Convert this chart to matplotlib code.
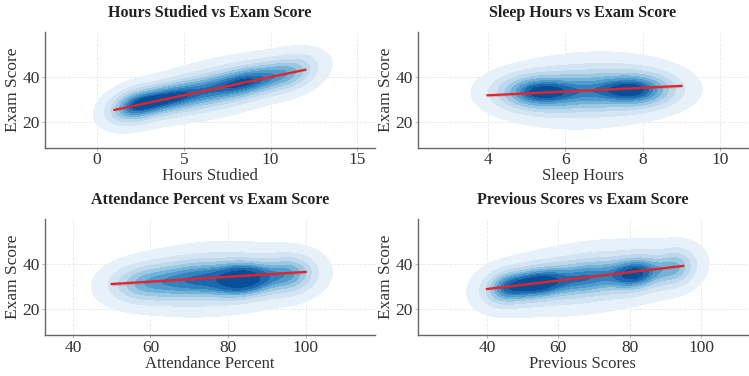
import numpy as np
import matplotlib
matplotlib.use("Agg")
import matplotlib.pyplot as plt

plt.rcParams['font.family'] = ['Liberation Serif', 'DejaVu Serif']

# panel names / axis labels
features = ["Hours Studied", "Sleep Hours", "Attendance Percent", "Previous Scores"]
titles = [f"{f} vs Exam Score" for f in features]

# x axis limits and ticks
xlims = [(-3, 16), (2.2, 10.7), (32.8, 117.8), (20.6, 113)]
xticks = [[0, 5, 10, 15], [4, 6, 8, 10], [40, 60, 80, 100], [40, 60, 80, 100]]
ylim = (8.5, 60)
yticks = [20, 40]

# regression line end points and CI half width
reg_x = [(1, 12), (4, 9), (50, 100), (40, 95)]
reg_y = [(25.3, 43.2), (31.8, 36.0), (31.2, 36.6), (29.0, 39.3)]
reg_ci = [0.5, 0.7, 0.8, 0.6]

# density blobs per panel: (cx, cy, sx, sy, slope, weight)
blobs_hours = [(2.0, 26.8, 1.0, 5.2, 1.6, 0.7), (3.8, 30.0, 1.4, 4.6, 1.6, 1.0),
               (6.5, 34.0, 1.6, 5.2, 1.6, 0.8), (9.0, 38.5, 1.4, 4.8, 1.6, 0.9),
               (11.3, 42.0, 1.1, 5.5, 1.6, 0.6), (6.8, 35.0, 2.9, 7.5, 1.6, 1.5)]
blobs_sleep = [(5.2, 33.2, 0.65, 5.0, 0.0, 1.0), (7.9, 34.2, 0.65, 5.0, 0.0, 1.0),
               (6.5, 33.6, 1.1, 5.6, 0.0, 0.9), (6.6, 34.0, 1.25, 8.5, 0.8, 2.2)]
blobs_att = [(58, 31.5, 6.0, 5.6, 0.1, 0.8), (71, 33.0, 6.5, 5.6, 0.1, 0.9),
             (84, 33.3, 5.0, 4.6, 0.1, 1.1), (96, 35.5, 4.5, 5.6, 0.1, 0.7),
             (77, 33.5, 13.5, 8.5, 0.1, 2.4)]
blobs_prev = [(45, 29.5, 4.2, 5.2, 0.19, 0.6), (54, 31.5, 5.5, 4.8, 0.19, 1.0),
              (68, 34.0, 6.5, 5.3, 0.19, 0.8), (82, 35.8, 5.0, 5.0, 0.19, 0.9),
              (93, 38.5, 3.8, 5.6, 0.19, 0.5), (68, 34.0, 16.0, 8.5, 0.19, 2.4)]
blobs = [blobs_hours, blobs_sleep, blobs_att, blobs_prev]


def density(xx, yy, comps):
    z = np.zeros_like(xx)
    for cx, cy, sx, sy, b, w in comps:
        dx = (xx - cx) / sx
        dy = (yy - cy - b * (xx - cx)) / sy
        z += w * np.exp(-0.5 * (dx**2 + dy**2)) / (sx * sy)
    return z


def iso_levels(z, n=10, thresh=0.05):
    vals = np.sort(z.ravel())
    cum = np.cumsum(vals)
    cum /= cum[-1]
    return np.interp(np.linspace(thresh, 1, n), cum, vals)


band_colors = plt.cm.Blues(np.linspace(0.08, 0.88, 9))

fig, axes = plt.subplots(2, 2, figsize=(7.49, 3.76), dpi=100)
fig.subplots_adjust(left=0.060, right=0.998, top=0.915, bottom=0.109,
                    wspace=0.13, hspace=0.62)

for i, ax in enumerate(axes.flat):
    x0, x1 = xlims[i]
    gx = np.linspace(x0, x1, 300)
    gy = np.linspace(ylim[0], ylim[1], 300)
    xx, yy = np.meshgrid(gx, gy)
    z = density(xx, yy, blobs[i])
    ax.contourf(xx, yy, z, levels=iso_levels(z), colors=band_colors, zorder=1)

    rx = np.array(reg_x[i])
    ry = np.array(reg_y[i])
    ax.fill_between(rx, ry - reg_ci[i], ry + reg_ci[i], color="#d62728", alpha=0.2,
                    lw=0, zorder=2)
    ax.plot(rx, ry, color="#e3242b", lw=1.6, zorder=3)

    ax.set_xlim(x0, x1)
    ax.set_ylim(*ylim)
    ax.set_xticks(xticks[i])
    ax.set_yticks(yticks)
    ax.set_axisbelow(True)
    ax.grid(True, ls="--", lw=0.6, color="#dddddd", alpha=0.7)
    for s in ["top", "right"]:
        ax.spines[s].set_visible(False)
    for s in ["left", "bottom"]:
        ax.spines[s].set_color("#666666")
        ax.spines[s].set_linewidth(1.0)
    ax.tick_params(length=2.5, width=0.6, color="#aaaaaa", labelsize=12.5,
                   labelcolor="#333333", pad=1)
    ax.set_xlabel(features[i], fontsize=12, color="#333333", labelpad=0)
    ax.set_ylabel("Exam Score", fontsize=12.5, color="#333333", labelpad=1)
    ax.set_title(titles[i], fontsize=11.5, fontweight="bold", color="#222222", pad=11)

fig.savefig("out.png", dpi=100)
